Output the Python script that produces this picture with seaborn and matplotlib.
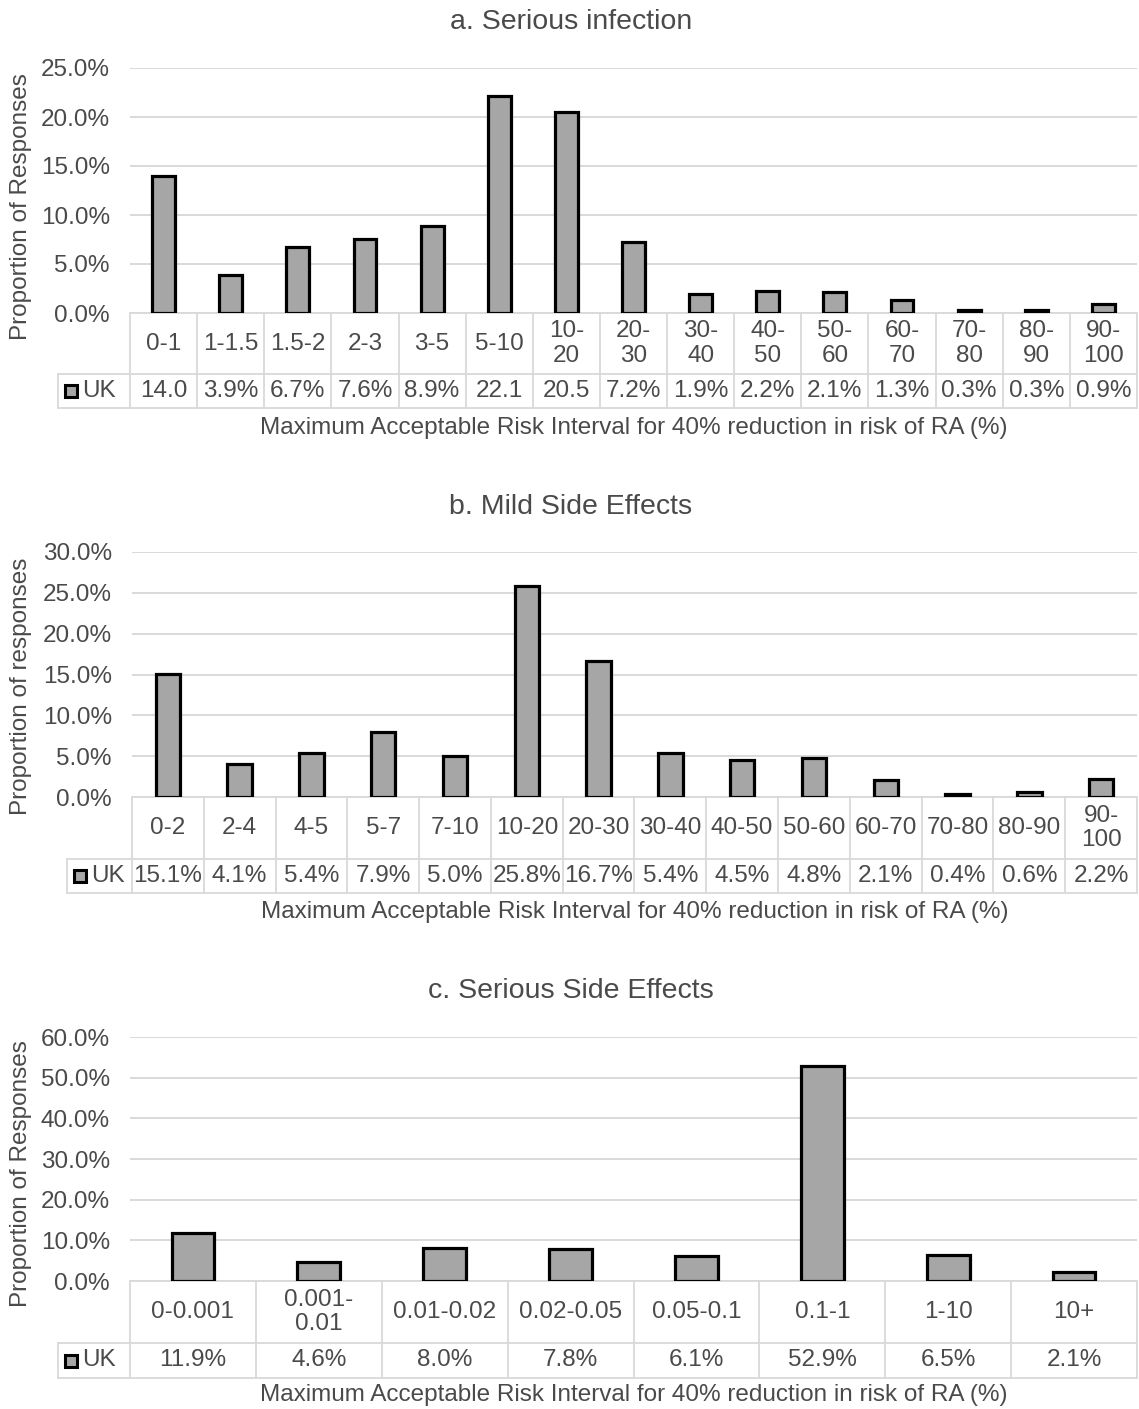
import matplotlib
matplotlib.use("Agg")
import matplotlib.pyplot as plt
import seaborn as sns
import pandas as pd
import numpy as np
from matplotlib.transforms import blended_transform_factory

# ---------------- data ----------------
a_title = "a. Serious infection"
a_ylabel = "Proportion of Responses"
a_cats = ["0-1", "1-1.5", "1.5-2", "2-3", "3-5", "5-10", "10-\n20", "20-\n30", "30-\n40",
          "40-\n50", "50-\n60", "60-\n70", "70-\n80", "80-\n90", "90-\n100"]
a_vals = [14.0, 3.9, 6.7, 7.6, 8.9, 22.1, 20.5, 7.2, 1.9, 2.2, 2.1, 1.3, 0.3, 0.3, 0.9]
a_table = ["14.0", "3.9%", "6.7%", "7.6%", "8.9%", "22.1", "20.5", "7.2%", "1.9%",
           "2.2%", "2.1%", "1.3%", "0.3%", "0.3%", "0.9%"]
a_yticks = [0, 5, 10, 15, 20, 25]

b_title = "b. Mild Side Effects"
b_ylabel = "Proportion of responses"
b_cats = ["0-2", "2-4", "4-5", "5-7", "7-10", "10-20", "20-30", "30-40", "40-50",
          "50-60", "60-70", "70-80", "80-90", "90-\n100"]
b_vals = [15.1, 4.1, 5.4, 7.9, 5.0, 25.8, 16.7, 5.4, 4.5, 4.8, 2.1, 0.4, 0.6, 2.2]
b_table = ["15.1%", "4.1%", "5.4%", "7.9%", "5.0%", "25.8%", "16.7%", "5.4%", "4.5%",
           "4.8%", "2.1%", "0.4%", "0.6%", "2.2%"]
b_yticks = [0, 5, 10, 15, 20, 25, 30]

c_title = "c. Serious Side Effects"
c_ylabel = "Proportion of Responses"
c_cats = ["0-0.001", "0.001-\n0.01", "0.01-0.02", "0.02-0.05", "0.05-0.1", "0.1-1", "1-10", "10+"]
c_vals = [11.9, 4.6, 8.0, 7.8, 6.1, 52.9, 6.5, 2.1]
c_table = ["11.9%", "4.6%", "8.0%", "7.8%", "6.1%", "52.9%", "6.5%", "2.1%"]
c_yticks = [0, 10, 20, 30, 40, 50, 60]

series_name = "UK"
xlabel = "Maximum Acceptable Risk Interval for 40% reduction in risk of RA (%)"

# ---------------- layout (pixels) ----------------
W, H = 1139, 1409
RIGHT = 1137
layouts = [
    dict(left=130, top=68, bottom=313, row1=374, row2=408, ukleft=58, xlab_y=428, title_y=22, ylab_y=207),
    dict(left=132, top=552, bottom=797, row1=859, row2=893, ukleft=67, xlab_y=912, title_y=507, ylab_y=686),
    dict(left=130, top=1037, bottom=1281, row1=1343, row2=1378, ukleft=58, xlab_y=1395, title_y=991, ylab_y=1174),
]
panels = [
    (a_title, a_ylabel, a_cats, a_vals, a_table, a_yticks),
    (b_title, b_ylabel, b_cats, b_vals, b_table, b_yticks),
    (c_title, c_ylabel, c_cats, c_vals, c_table, c_yticks),
]

BAR = "#a6a6a6"
GRID = "#d9d9d9"
TXT = "#4a4a4a"
FS = 17.5

sns.set_theme(style="white")
plt.rcParams['font.family'] = ['Liberation Sans', 'DejaVu Sans']

fig = plt.figure(figsize=(W / 100, H / 100), dpi=100)

for (title, ylabel, cats, vals, table, yticks), L in zip(panels, layouts):
    hpx = L['bottom'] - L['top']
    ax = fig.add_axes([L['left'] / W, 1 - L['bottom'] / H, (RIGHT - L['left']) / W, hpx / H])
    df = pd.DataFrame({"cat": cats, "val": vals})
    sns.barplot(data=df, x="cat", y="val", ax=ax, color=BAR, saturation=1,
                edgecolor="black", linewidth=2.3, width=0.34, zorder=3)
    n = len(cats)
    ax.set_xlim(-0.5, n - 0.5)
    ax.set_ylim(0, yticks[-1])
    ax.set_yticks(yticks)
    ax.set_yticklabels([f"{v:.1f}%" for v in yticks])
    ax.yaxis.grid(True, color=GRID, lw=1.4, zorder=0)
    ax.set_axisbelow(True)
    for s in ax.spines.values():
        s.set_visible(False)
    ax.set_xticks([])
    ax.set_xlabel("")
    ax.set_ylabel("")
    ax.tick_params(axis="y", length=0, pad=14.5, labelsize=FS, labelcolor=TXT)

    trans = blended_transform_factory(ax.transData, ax.transAxes)
    inv = ax.transData.inverted()

    def yax(py):
        return (L['bottom'] - py) / hpx

    def xdat(px):
        return inv.transform((px, 0))[0]

    y1 = yax(L['row1'])
    y2 = yax(L['row2'])
    xuk = xdat(L['ukleft'])
    lk = dict(color=GRID, lw=1.3, transform=trans, clip_on=False, zorder=1)
    # horizontal lines
    ax.plot([-0.5, n - 0.5], [0, 0], **lk)
    ax.plot([xuk, n - 0.5], [y1, y1], **lk)
    ax.plot([xuk, n - 0.5], [y2, y2], **lk)
    # vertical lines
    for i in range(n + 1):
        ax.plot([i - 0.5, i - 0.5], [0, y2], **lk)
    ax.plot([xuk, xuk], [y1, y2], **lk)

    # cell texts
    ym1 = (0 + y1) / 2
    ym2 = (y1 + y2) / 2
    for i, (c, t) in enumerate(zip(cats, table)):
        ax.text(i, ym1, c, transform=trans, ha="center", va="center", fontsize=FS,
                color=TXT, linespacing=1.15, clip_on=False)
        ax.text(i, ym2, t, transform=trans, ha="center", va="center", fontsize=FS,
                color=TXT, clip_on=False)
    # legend key
    ax.plot([xdat(L['ukleft'] + 13)], [ym2], marker="s", ms=8, mfc=BAR, mec="black",
            mew=2.2, transform=trans, clip_on=False, linestyle="none")
    ax.text(xdat(L['ukleft'] + 24), ym2, series_name, transform=trans, ha="left",
            va="center", fontsize=FS, color=TXT, clip_on=False)

    # titles & labels
    fig.text(571 / W, 1 - L['title_y'] / H, title, ha="center", va="center",
             fontsize=20.5, color=TXT)
    fig.text(((L['left'] + RIGHT) / 2) / W, 1 - L['xlab_y'] / H, xlabel, ha="center",
             va="center", fontsize=FS, color=TXT)
    fig.text(21 / W, 1 - L['ylab_y'] / H, ylabel, ha="center", va="center",
             rotation=90, fontsize=FS, color=TXT)

fig.savefig("out.png", dpi=100, facecolor="white")
